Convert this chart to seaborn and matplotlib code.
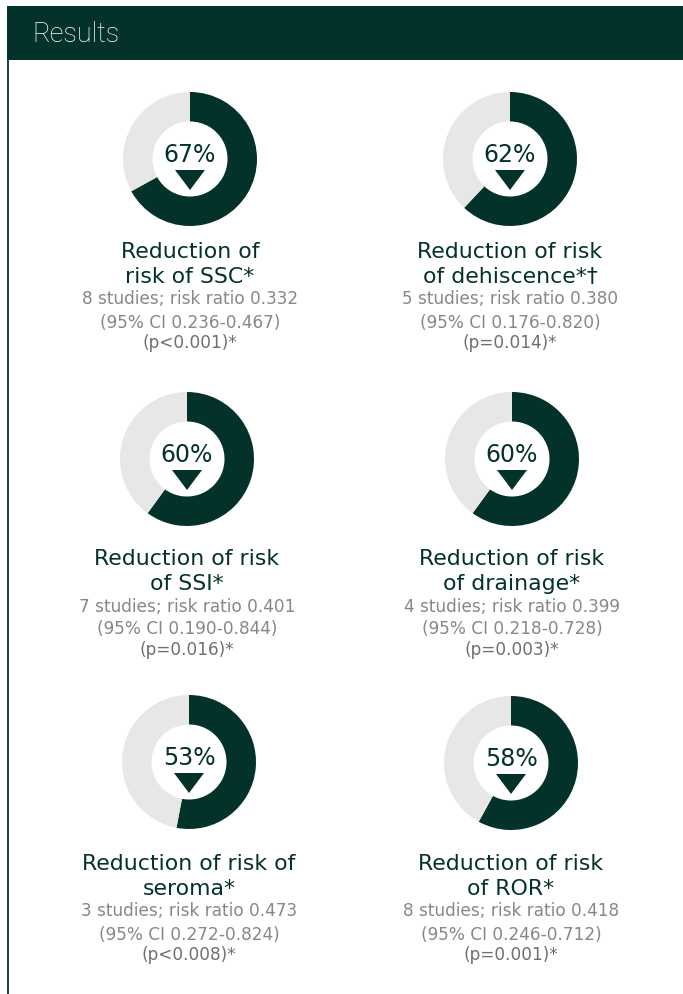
import matplotlib
matplotlib.use("Agg")
import matplotlib.pyplot as plt
import seaborn as sns
from matplotlib.patches import Rectangle, Polygon

# ---- data -------------------------------------------------------------
outcomes = ["SSC", "dehiscence", "SSI", "drainage", "seroma", "ROR"]
reduction_pct = [67, 62, 60, 60, 53, 58]
title_line1 = ["Reduction of", "Reduction of risk", "Reduction of risk",
               "Reduction of risk", "Reduction of risk of", "Reduction of risk"]
title_line2 = ["risk of SSC*", "of dehiscence*\u2020", "of SSI*",
               "of drainage*", "seroma*", "of ROR*"]
n_studies = [8, 5, 7, 4, 3, 8]
risk_ratio = ["0.332", "0.380", "0.401", "0.399", "0.473", "0.418"]
ci_low = ["0.236", "0.176", "0.190", "0.218", "0.272", "0.246"]
ci_high = ["0.467", "0.820", "0.844", "0.728", "0.824", "0.712"]
p_values = ["p<0.001", "p=0.014", "p=0.016", "p=0.003", "p<0.008", "p=0.001"]

# ---- style ------------------------------------------------------------
sns.set_theme(style="white")
plt.rcParams["font.family"] = ["DejaVu Sans"]

DARK = "#03322b"
LIGHT = "#e7e7e7"
GREY = "#878787"
GREY_DARK = "#6f6f6f"

W, H = 683, 995
fig = plt.figure(figsize=(W / 100, H / 100), dpi=100)
fig.patch.set_facecolor("white")

# background canvas in pixel units
bg = fig.add_axes([0, 0, 1, 1])
bg.set_xlim(0, W)
bg.set_ylim(H, 0)
bg.axis("off")

# header band and left rule
bg.add_patch(Rectangle((7, 7), W - 7, 54, facecolor=DARK, edgecolor="none"))
bg.plot([7.5, 7.5], [61, H], color=DARK, lw=1.3, solid_capstyle="butt")
bg.text(32, 35, "Results", color="white", fontsize=19.5, fontweight="light",
        family=["Roboto", "DejaVu Sans"], va="center", ha="left")

# ---- layout -----------------------------------------------------------
R = 67
centers = [(190, 160), (510, 160), (187, 460), (512, 460), (189, 763), (511, 764)]
title_baseline = [258, 258, 565, 565, 870, 870]

for i, pct in enumerate(reduction_pct):
    cx, cy = centers[i]
    ax = fig.add_axes([(cx - R) / W, 1 - (cy + R) / H, 2 * R / W, 2 * R / H])
    ax.pie([pct, 100 - pct], colors=[DARK, LIGHT], startangle=90,
           counterclock=False, radius=1,
           wedgeprops=dict(width=0.44, linewidth=0))
    ax.set_xlim(-1, 1)
    ax.set_ylim(-1, 1)
    ax.set_aspect("equal")
    ax.axis("off")

    # value and downward arrow inside the ring
    ax.text(0, -2 / R, f"{pct}%", ha="center", va="baseline",
            fontsize=17, color=DARK)
    ax.add_patch(Polygon([(-15 / R, -11 / R), (15 / R, -11 / R), (0, -31 / R)],
                         closed=True, facecolor=DARK, edgecolor="none"))

    # captions
    ty = title_baseline[i]
    kw = dict(ha="center", va="baseline")
    bg.text(cx, ty, title_line1[i], fontsize=15.8, color=DARK, **kw)
    bg.text(cx, ty + 25, title_line2[i], fontsize=15.8, color=DARK, **kw)
    bg.text(cx, ty + 46.5, f"{n_studies[i]} studies; risk ratio {risk_ratio[i]}",
            fontsize=12.2, color=GREY, **kw)
    bg.text(cx, ty + 69.5, f"(95% CI {ci_low[i]}-{ci_high[i]})",
            fontsize=12.2, color=GREY, **kw)
    bg.text(cx, ty + 90, f"({p_values[i]})*",
            fontsize=12.2, color=GREY_DARK, **kw)

fig.savefig("out.png", dpi=100, facecolor="white")
